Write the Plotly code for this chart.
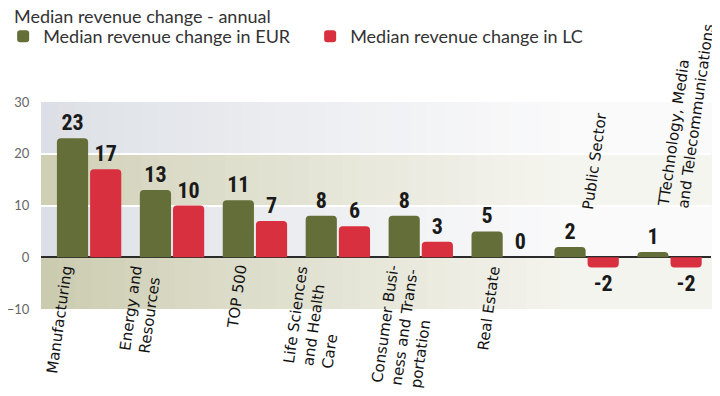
import plotly.graph_objects as go

# ---- data ----
categories = ["Manufacturing", "Energy and Resources", "TOP 500",
              "Life Sciences and Health Care", "Consumer Business and Transportation",
              "Real Estate", "Public Sector", "TTechnology, Media and Telecommunications"]
category_labels = ["Manufacturing", "Energy and<br>Resources", "TOP 500",
                   "Life Sciences<br>and Health<br>Care",
                   "Consumer Busi-<br>ness and Trans-<br>portation",
                   "Real Estate", "Public Sector",
                   "TTechnology, Media<br>and Telecommunications"]
eur_values = [23, 13, 11, 8, 8, 5, 2, 1]
lc_values = [17, 10, 7, 6, 3, 0, -2, -2]
y_ticks = [-10, 0, 10, 20, 30]
chart_title = "Median revenue change - annual"

# label placement (style): horizontal offset, in category units
label_dx = [-0.36, -0.38, -0.21, -0.27, -0.19, -0.18, 0.1, 0.2]

GREEN = "#636e39"
RED = "#d8303f"
TEXT = "#333333"
LABEL_FONT = "DejaVu Sans"
MAIN_FONT = "Lato, 'Open Sans', sans-serif"
NUM_FONT = "'Liberation Sans Narrow', 'Roboto Condensed', Roboto, sans-serif"

x_idx = list(range(len(categories)))

fig = go.Figure()
fig.add_trace(go.Bar(
    x=x_idx, y=eur_values, name="Median revenue change in EUR",
    marker=dict(color=GREEN, line=dict(width=0)),
    text=eur_values, textposition="outside", constraintext="none",
    textfont=dict(family=NUM_FONT, size=22, color="#1a1a1a", weight="bold"),
    cliponaxis=False, hoverinfo="skip",
))
fig.add_trace(go.Bar(
    x=x_idx, y=lc_values, name="Median revenue change in LC",
    marker=dict(color=RED, line=dict(width=0)),
    text=lc_values, textposition="outside", constraintext="none",
    textfont=dict(family=NUM_FONT, size=22, color="#1a1a1a", weight="bold"),
    cliponaxis=False, hoverinfo="skip",
))

# ---- background bands with horizontal fade ----
def lerp(c1, c2, t):
    a = [int(c1[i:i + 2], 16) for i in (1, 3, 5)]
    b = [int(c2[i:i + 2], 16) for i in (1, 3, 5)]
    return "rgb(%d,%d,%d)" % tuple(round(a[k] + (b[k] - a[k]) * t) for k in range(3))

bands = [(20, 30, "#dcdfe5", "#fafafb"),
         (10, 20, "#cfcfb5", "#f5f5f0"),
         (0, 10, "#dcdfe5", "#fafafb"),
         (-10, 0, "#cbcbb0", "#f4f4ee")]
N = 40
shapes = []
for y0, y1, c_left, c_right in bands:
    for i in range(N):
        t = min(1.0, (i / (N - 1)) / 0.8) ** 0.85
        shapes.append(dict(type="rect", xref="paper", yref="y",
                           x0=i / N, x1=(i + 1) / N + 0.002, y0=y0, y1=y1,
                           fillcolor=lerp(c_left, c_right, t),
                           line=dict(width=0), layer="below"))

# ---- category labels ----
annotations = []
for i, (lab, lc, dx) in enumerate(zip(category_labels, lc_values, label_dx)):
    if lc < 0:
        annotations.append(dict(x=i + dx, y=0, xref="x", yref="y", text=lab,
                                showarrow=False, textangle=-82, align="left",
                                xanchor="center", yanchor="bottom", yshift=44,
                                font=dict(family=LABEL_FONT, size=15, color="#111")))
    else:
        annotations.append(dict(x=i + dx, y=0, xref="x", yref="y", text=lab,
                                showarrow=False, textangle=-82, align="left",
                                xanchor="center", yanchor="top", yshift=-5,
                                font=dict(family=LABEL_FONT, size=15, color="#111")))

fig.update_layout(
    width=720, height=396,
    margin=dict(l=33, r=17, t=94, b=95, autoexpand=False),
    paper_bgcolor="white", plot_bgcolor="white",
    barmode="group", bargap=0.2, bargroupgap=0.06, barcornerradius=4,
    font=dict(family=MAIN_FONT, color=TEXT),
    title=dict(text=chart_title, x=6 / 720, xref="container", xanchor="left",
               y=1 - 2 / 396, yref="container", yanchor="top",
               font=dict(family=MAIN_FONT, size=18, color=TEXT)),
    showlegend=True,
    legend=dict(orientation="h", x=-0.0565, y=1.405, xref="paper", yref="paper",
                xanchor="left", yanchor="top",
                font=dict(family=MAIN_FONT, size=18, color=TEXT),
                entrywidth=262, entrywidthmode="pixels",
                bgcolor="rgba(0,0,0,0)", traceorder="normal"),
    xaxis=dict(range=[-0.58, 7.5], showticklabels=False, showgrid=False,
               zeroline=False, showline=False, ticks=""),
    yaxis=dict(range=[-10, 30], tickvals=y_ticks, showgrid=True, automargin=False,
               gridcolor="white", gridwidth=2, zeroline=True,
               zerolinecolor="#2b2b2b", zerolinewidth=2,
               tickfont=dict(family=MAIN_FONT, size=13, color="#666"),
               ticks="outside", ticklen=8, tickcolor="rgba(0,0,0,0)", showline=False),
    shapes=shapes,
    annotations=annotations,
)

fig.write_html("out.html")
